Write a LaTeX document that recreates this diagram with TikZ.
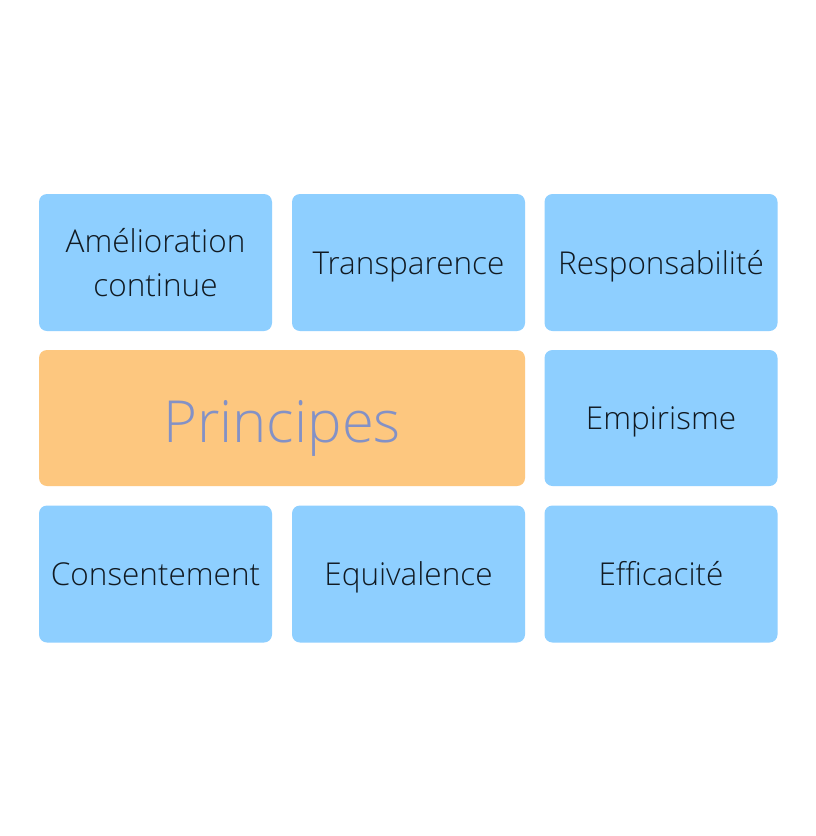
\documentclass[tikz,border=0pt]{standalone}
\usepackage{fontspec}
\setmainfont{Open Sans Light}
\begin{document}
\definecolor{tileblue}{HTML}{8ECFFF}
\definecolor{tileorange}{HTML}{FDC77F}
\definecolor{titleink}{HTML}{8391C6}
\definecolor{tileink}{HTML}{111A22}
\begin{tikzpicture}[x=1pt,y=-1pt,
  tile/.style={fill=tileblue, rounded corners=8pt, draw=none, inner sep=0pt,
    minimum width=233pt, minimum height=137pt, text=tileink, align=center,
    font=\fontsize{31.5}{43.3}\selectfont},
  oneline/.style={text height=23pt, text depth=0pt},
  core/.style={fill=tileorange, rounded corners=8pt, draw=none, inner sep=0pt,
    minimum width=486pt, minimum height=136pt, text=titleink,
    text height=48pt, text depth=0pt,
    font=\fontsize{58}{70}\selectfont}]
\useasboundingbox (0,0) rectangle (816,836);
\fill[white] (0,0) rectangle (816,836);
% top row
\node[tile] (amel) at (155.5,262.5) {Amélioration\\continue};
\node[tile, oneline] (trans) at (408.5,262.5) {Transparence};
\node[tile, oneline] (resp) at (661,262.5) {Responsabilité};
% middle row
\node[core] (princ) at (282,418) {Principes};
\node[tile, oneline, minimum height=136pt] (emp) at (661,418) {Empirisme};
% bottom row
\node[tile, oneline] (cons) at (155.5,574) {Consentement};
\node[tile, oneline] (equi) at (408.5,574) {Equivalence};
\node[tile, oneline] (effi) at (661,574) {Efficacité};
\end{tikzpicture}
\end{document}
